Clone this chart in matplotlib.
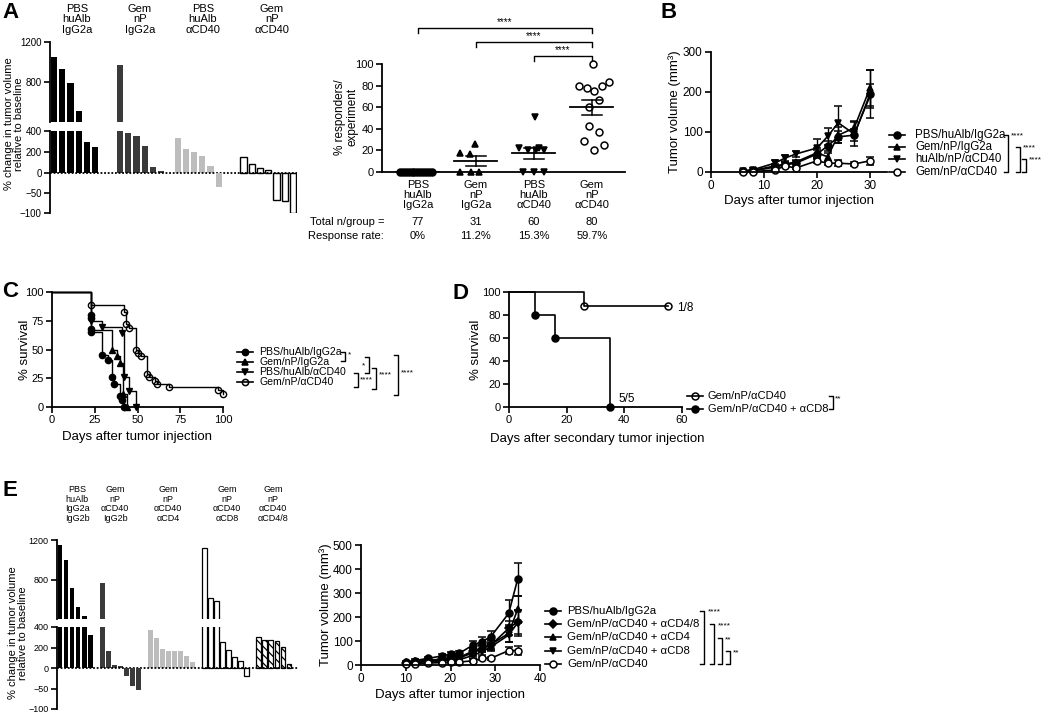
import numpy as np
import matplotlib
matplotlib.use("Agg")
import matplotlib.pyplot as plt
from matplotlib import transforms

plt.rcParams["font.family"] = ["Liberation Sans", "DejaVu Sans"]
plt.rcParams["hatch.linewidth"] = 0.9

W, H = 1050, 714

# ---------------- A: waterfall (% change vs baseline)
a_groups = ["PBS\nhuAlb\nIgG2a", "Gem\nnP\nIgG2a", "PBS\nhuAlb\nαCD40", "Gem\nnP\nαCD40"]
a_wf_pbs = [1053, 930, 787, 510, 291, 250]
a_wf_gem = [970, 378, 352, 259, 58, 19]
a_wf_cd40 = [330, 224, 202, 166, 64, -34]
a_wf_combo = [157, 90, 51, 26, -67, -71, -100]

# ---------------- A: responders per experiment
a_resp_pbs = [0, 0, 0, 0, 0, 0, 0, 0, 0, 0, 0, 0]
a_resp_gem = [26, 18, 17, 0, 0, 0]
a_resp_cd40 = [51, 22, 20, 20, 20, 22, 0, 0, 0]
a_resp_combo = [100, 80, 78, 75, 80, 83, 67, 60, 43, 37, 29, 25, 20]
a_jit_pbs = [-0.31, -0.26, -0.21, -0.16, -0.11, -0.06, -0.01, 0.04, 0.09, 0.14, 0.19, 0.25]
a_jit_gem = [-0.02, -0.28, -0.1, -0.28, -0.09, 0.05]
a_jit_cd40 = [0.02, -0.26, -0.11, 0.03, 0.17, 0.09, -0.19, 0.0, 0.17]
a_jit_combo = [0.02, -0.22, -0.08, 0.03, 0.17, 0.29, 0.13, -0.05, -0.05, 0.12, -0.14, 0.2, 0.03]
a_total_n = [77, 31, 60, 80]
a_rate = ["0%", "11.2%", "15.3%", "59.7%"]

# ---------------- B: tumor growth
b_labels = ["PBS/huAlb/IgG2a", "Gem/nP/IgG2a", "huAlb/nP/αCD40", "Gem/nP/αCD40"]
b_days = [6, 8, 12, 14, 16, 20, 22, 24, 27, 30]
b_pbs = [2, 3, 12, 18, 22, 45, 65, 88, 92, 195]
b_pbs_err = [1, 2, 4, 5, 6, 10, 12, 15, 15, 60]
b_gem = [2, 4, 15, 20, 25, 48, 38, 92, 110, 210]
b_gem_err = [1, 2, 5, 6, 6, 12, 10, 20, 18, 45]
b_cd40 = [3, 6, 22, 35, 45, 60, 89, 123, 95, 190]
b_cd40_err = [1, 3, 8, 8, 8, 22, 22, 43, 30, 30]
b_combo = [1, 1, 5, 15, 10, 28, 22, 22, 20, 28]
b_combo_err = [0.5, 1, 2, 3, 3, 5, 5, 8, 4, 10]

# ---------------- C: survival
c_labels = ["PBS/huAlb/IgG2a", "Gem/nP/IgG2a", "PBS/huAlb/αCD40", "Gem/nP/αCD40"]
c_pbs_t = [0, 23, 23, 23, 23, 29, 33, 35, 36, 40, 41, 42]
c_pbs_s = [100, 80, 77, 68, 65, 45, 41, 26, 20, 10, 6, 0]
c_gem_t = [0, 23, 35, 38, 40, 41.5, 44]
c_gem_s = [100, 67, 50, 44, 38, 11, 0]
c_cd40_t = [0, 23, 29, 41, 42, 45, 49]
c_cd40_s = [100, 75, 70, 64, 26, 14, 0]
c_combo_t = [0, 23, 42, 43.5, 45, 49, 50.5, 52, 55.5, 56.5, 60.5, 61.5, 68.5, 97, 100]
c_combo_s = [100, 89, 83, 72, 69, 50, 47, 44, 29, 26, 23, 20, 17.5, 14.5, 11.5]

# ---------------- D: rechallenge survival
d_labels = ["Gem/nP/αCD40", "Gem/nP/αCD40 + αCD8"]
d_combo_t = [0, 26, 55]
d_combo_s = [100, 87.5, 87.5]
d_cd8_t = [0, 9, 16, 35]
d_cd8_s = [100, 80, 60, 0]

# ---------------- E: waterfall
e_groups = ["PBS\nhuAlb\nIgG2a\nIgG2b", "Gem\nnP\nαCD40\nIgG2b", "Gem\nnP\nαCD40\nαCD4",
            "Gem\nnP\nαCD40\nαCD8", "Gem\nnP\nαCD40\nαCD4/8"]
e_wf_ctrl = [1150, 1000, 710, 517, 433, 320]
e_wf_igg = [760, 166, 32, 22, -19, -45, -54]
e_wf_cd4 = [374, 288, 182, 166, 166, 166, 118, 58]
e_wf_cd8 = [1117, 610, 583, 250, 176, 106, 64, -20]
e_wf_cd48 = [304, 272, 272, 262, 208, 38]

# ---------------- E: tumor growth
e_labels = ["PBS/huAlb/IgG2a", "Gem/nP/αCD40 + αCD4/8", "Gem/nP/αCD40 + αCD4",
            "Gem/nP/αCD40 + αCD8", "Gem/nP/αCD40"]
e_days = [10, 12, 15, 18, 20, 22, 25, 27, 29, 33, 35]
e_pbs = [14, 18, 28, 37, 46, 49, 83, 97, 118, 215, 357]
e_pbs_err = [4, 5, 6, 8, 8, 10, 15, 18, 25, 56, 70]
e_cd48 = [10, 14, 20, 24, 28, 32, 58, 68, 82, 153, 180]
e_cd48_err = [3, 4, 5, 6, 7, 8, 12, 15, 18, 30, 50]
e_cd4 = [8, 12, 18, 22, 25, 30, 50, 70, 85, 132, 232]
e_cd4_err = [3, 3, 5, 5, 6, 8, 12, 15, 20, 35, 55]
e_cd8 = [6, 9, 14, 17, 20, 22, 40, 55, 75, 125, 176]
e_cd8_err = [2, 3, 4, 5, 5, 6, 10, 12, 15, 30, 55]
e_combo = [3, 5, 8, 10, 12, 12, 18, 28, 28, 60, 60]
e_combo_err = [1, 2, 2, 3, 3, 3, 5, 6, 6, 15, 20]


fig = plt.figure(figsize=(10.5, 7.14), dpi=100)
ov = fig.add_axes([0, 0, 1, 1])
ov.set_xlim(0, W)
ov.set_ylim(H, 0)
ov.axis("off")
ov.set_zorder(10)


def px_axes(l, t, r, b):
    return fig.add_axes([l / W, 1 - b / H, (r - l) / W, (b - t) / H])


def style(ax, fs):
    ax.spines["top"].set_visible(False)
    ax.spines["right"].set_visible(False)
    for s in ("left", "bottom"):
        ax.spines[s].set_linewidth(1.3)
    ax.tick_params(direction="out", length=4, width=1.2, labelsize=fs, pad=2)
    ax.patch.set_alpha(0)


def bracket(x, y1, y2, w=4):
    ov.plot([x - w, x, x, x - w], [y1, y1, y2, y2], color="k", lw=1.0)


def stars(x, y, s, fs=6):
    ov.text(x, y, s, fontsize=fs, ha="left", va="center")


def legend_row(x, y, marker, mfc, label, ms=5, fs=8.5, dx=16):
    ov.plot([x - 8, x + 8], [y, y], color="k", lw=1.2)
    ov.plot([x], [y], marker=marker, mfc=mfc, mec="k", ms=ms, mew=1.1)
    ov.text(x + dx, y, label, fontsize=fs, va="center", ha="left")


def waterfall(l, r, rows, groups, starts, styles, width, xlim, fs):
    for t, b, ylim, ticks in rows:
        ax = px_axes(l, t, r, b)
        for vals, s0, st in zip(groups, starts, styles):
            x = s0 + np.arange(len(vals))
            ax.bar(x, vals, width=width, **st)
        ax.set_xlim(xlim)
        ax.set_ylim(ylim)
        ax.set_yticks(ticks)
        style(ax, fs)
        ax.spines["bottom"].set_visible(False)
        ax.set_xticks([])
        if ylim[0] == 0:
            ax.axhline(0, color="k", lw=1.3, ls=(0, (1, 1)), clip_on=False, zorder=5)


# ---------- A waterfall
waterfall(50, 297,
          [(42, 122, (400, 1200), [800, 1200]),
           (131, 173, (0, 400), [0, 200, 400]),
           (173, 213, (-100, 0), [-50, -100])],
          [a_wf_pbs, a_wf_gem, a_wf_cd40, a_wf_combo], [0, 8, 15, 23],
          [dict(color="black"), dict(color="#3a3a3a"), dict(color="#bdbdbd"),
           dict(facecolor="white", edgecolor="black", linewidth=1.0)],
          0.75, (-0.5, 29.5), 7)
for xc, lab in zip([77, 140, 203, 272], a_groups):
    ov.text(xc, 4, lab, fontsize=8, ha="center", va="top", linespacing=1.05)
ov.text(14, 124, "% change in tumor volume\nrelative to baseline", fontsize=8,
        rotation=90, ha="center", va="center", linespacing=1.1)

# ---------- A responders
ax = px_axes(382, 64, 625, 172)
resp = [a_resp_pbs, a_resp_gem, a_resp_cd40, a_resp_combo]
jit = [a_jit_pbs, a_jit_gem, a_jit_cd40, a_jit_combo]
marks = [("o", "k"), ("^", "k"), ("v", "k"), ("o", "white")]
for i, (vals, jj, (mk, fc)) in enumerate(zip(resp, jit, marks)):
    vals = np.array(vals, float)
    ax.plot(i + np.array(jj), vals, ls="none", marker=mk, mfc=fc, mec="k", ms=5, mew=1.1,
            clip_on=False, zorder=3)
    m = vals.mean()
    se = vals.std(ddof=1) / np.sqrt(len(vals))
    ax.plot([i - 0.37, i + 0.37], [m, m], color="k", lw=1.3, zorder=4)
    if se > 0:
        ax.plot([i, i], [m - se, m + se], color="k", lw=1.1, zorder=4)
        for yy in (m - se, m + se):
            ax.plot([i - 0.18, i + 0.18], [yy, yy], color="k", lw=1.1, zorder=4)
ax.set_xlim(-0.62, 3.57)
ax.set_ylim(0, 100)
ax.set_yticks(range(0, 101, 20))
style(ax, 8)
ax.set_xticks(range(4))
ax.set_xticklabels(a_groups, fontsize=8, linespacing=1.0)
ax.tick_params(axis="x", length=0, pad=6)
for i, j, y in [(0, 3, 133), (1, 3, 120), (2, 3, 107)]:
    ax.plot([i, i, j, j], [y - 4, y, y, y - 4], color="k", lw=1.0, clip_on=False)
    ax.text((i + j) / 2, y + 1, "****", ha="center", va="bottom", fontsize=7)
tr = transforms.blended_transform_factory(ax.transData, ov.transData)
ov.text(310, 222, "Total n/group =", fontsize=8, va="center", ha="left")
ov.text(308, 236, "Response rate:", fontsize=8, va="center", ha="left")
for i, (n, r) in enumerate(zip(a_total_n, a_rate)):
    ax.text(i, 222, str(n), transform=tr, fontsize=8, ha="center", va="center")
    ax.text(i, 236, r, transform=tr, fontsize=8, ha="center", va="center")
ov.text(346, 117, "% responders/\nexperiment", fontsize=8.5, rotation=90,
        ha="center", va="center", linespacing=1.05)

# ---------- B
ax = px_axes(711, 52, 887, 172)
b_series = [(b_pbs, b_pbs_err, "o", "k"), (b_gem, b_gem_err, "^", "k"),
            (b_cd40, b_cd40_err, "v", "k"), (b_combo, b_combo_err, "o", "white")]
for vals, err, mk, fc in b_series:
    ax.errorbar(b_days, vals, yerr=err, color="k", marker=mk, mfc=fc, mec="k", ms=5,
                mew=1.1, lw=1.2, elinewidth=1.0, capsize=3, capthick=1.0, clip_on=False)
ax.set_xlim(0, 33.2)
ax.set_ylim(0, 300)
ax.set_xticks([0, 10, 20, 30])
ax.set_yticks([0, 100, 200, 300])
style(ax, 8.5)
ov.text(799, 201, "Days after tumor injection", fontsize=9.5, ha="center", va="center")
ov.text(675, 112, "Tumor volume (mm³)", fontsize=9.5, rotation=90, ha="center", va="center")
for y, (vals, err, mk, fc), lab in zip([135, 147, 159, 172], b_series, b_labels):
    legend_row(897, y, mk, fc, lab, fs=8.3, dx=18)
bracket(1008, 135, 172)
stars(1011, 136, "****")
bracket(1020, 147, 172)
stars(1023, 148, "****")
bracket(1026, 159, 172)
stars(1029, 160, "****")

# ---------- C
ax = px_axes(52, 292, 223, 407)
c_series = [(c_pbs_t, c_pbs_s, "o", "k"), (c_gem_t, c_gem_s, "^", "k"),
            (c_cd40_t, c_cd40_s, "v", "k"), (c_combo_t, c_combo_s, "o", "none")]
for t, s, mk, fc in c_series:
    ax.step(t, s, where="post", color="k", lw=1.0, clip_on=False)
    ax.plot(t[1:], s[1:], ls="none", marker=mk, mfc=fc, mec="k", ms=4.5, mew=1.0, clip_on=False)
ax.set_xlim(0, 100)
ax.set_ylim(0, 100)
ax.set_xticks([0, 25, 50, 75, 100])
ax.set_yticks([0, 25, 50, 75, 100])
style(ax, 8)
ov.text(137, 437, "Days after tumor injection", fontsize=9.5, ha="center", va="center")
ov.text(25, 350, "% survival", fontsize=9.5, rotation=90, ha="center", va="center")
for y, (t, s, mk, fc), lab in zip([352, 362, 372, 382], c_series, c_labels):
    legend_row(245, y, mk, fc, lab, ms=4.5, fs=7.6, dx=14)
bracket(345, 352, 361)
stars(348, 355, "*")
bracket(369, 357, 373)
stars(362, 366, "*")
bracket(358, 373, 387)
stars(360, 380, "****")
bracket(376, 368, 389)
stars(379, 375, "****")
bracket(398, 355, 395)
stars(401, 373, "****")

# ---------- D
ax = px_axes(509, 292, 682, 407)
d_series = [(d_combo_t, d_combo_s, "o", "none"), (d_cd8_t, d_cd8_s, "o", "k")]
for t, s, mk, fc in d_series:
    ax.step(t, s, where="post", color="k", lw=1.2, clip_on=False)
    ax.plot(t[1:], s[1:], ls="none", marker=mk, mfc=fc, mec="k", ms=5, mew=1.1, clip_on=False)
ax.set_xlim(0, 60)
ax.set_ylim(0, 100)
ax.set_xticks([0, 20, 40, 60])
ax.set_yticks(range(0, 101, 20))
style(ax, 8)
ov.text(677, 308, "1/8", fontsize=8.5, ha="left", va="center")
ov.text(618, 399, "5/5", fontsize=8.5, ha="left", va="center")
ov.text(597, 439, "Days after secondary tumor injection", fontsize=9.5, ha="center", va="center")
ov.text(476, 350, "% survival", fontsize=9.5, rotation=90, ha="center", va="center")
for y, (t, s, mk, fc), lab in zip([396, 409], d_series, d_labels):
    legend_row(695, y, mk, fc, lab, ms=5, fs=8, dx=13)
bracket(833, 396, 409)
stars(835, 399, "**")

# ---------- E waterfall
waterfall(57, 298,
          [(540, 619, (400, 1200), [800, 1200]),
           (627, 668, (0, 400), [0, 200, 400]),
           (668, 709, (-100, 0), [-50, -100])],
          [e_wf_ctrl, e_wf_igg, e_wf_cd4, e_wf_cd8, e_wf_cd48], [0, 7, 15, 24, 33],
          [dict(color="black"), dict(color="#3a3a3a"), dict(color="#bdbdbd"),
           dict(facecolor="white", edgecolor="black", linewidth=0.9),
           dict(facecolor="white", edgecolor="black", linewidth=0.9, hatch="\\\\\\\\")],
          0.8, (-0.5, 39.5), 6.5)
for xc, lab in zip([77, 115, 168, 227, 273], e_groups):
    ov.text(xc, 485, lab, fontsize=6.5, ha="center", va="top", linespacing=1.1)
ov.text(18, 633, "% change in tumor volume\nrelative to baseline", fontsize=8,
        rotation=90, ha="center", va="center", linespacing=1.05)

# ---------- E tumor growth
ax = px_axes(361, 545, 540, 665)
e_series = [(e_pbs, e_pbs_err, "o", "k", 5), (e_cd48, e_cd48_err, "D", "k", 4),
            (e_cd4, e_cd4_err, "^", "k", 5), (e_cd8, e_cd8_err, "v", "k", 5),
            (e_combo, e_combo_err, "o", "white", 5)]
for vals, err, mk, fc, ms in e_series:
    ax.errorbar(e_days, vals, yerr=err, color="k", marker=mk, mfc=fc, mec="k", ms=ms,
                mew=1.1, lw=1.2, elinewidth=1.0, capsize=3, capthick=1.0, clip_on=False)
ax.set_xlim(0, 40)
ax.set_ylim(0, 500)
ax.set_xticks([0, 10, 20, 30, 40])
ax.set_yticks(range(0, 501, 100))
style(ax, 8.5)
ov.text(450, 695, "Days after tumor injection", fontsize=9.5, ha="center", va="center")
ov.text(326, 605, "Tumor volume (mm³)", fontsize=9.5, rotation=90, ha="center", va="center")
for y, (vals, err, mk, fc, ms), lab in zip([611, 624, 637, 651, 664], e_series, e_labels):
    legend_row(553, y, mk, fc, lab, ms=ms, fs=8.2, dx=14)
bracket(704, 611, 664)
stars(708, 612, "****")
bracket(714, 624, 664)
stars(718, 626, "****")
bracket(722, 638, 664)
stars(725, 640, "**")
bracket(730, 651, 664)
stars(733, 653, "**")

# panel letters
for x, y, letter in [(2, 2, "A"), (661, 2, "B"), (2, 281, "C"), (452, 283, "D"), (2, 480, "E")]:
    ov.text(x, y, letter, fontsize=16, fontweight="bold", ha="left", va="top")

fig.savefig("out.png", dpi=100)
